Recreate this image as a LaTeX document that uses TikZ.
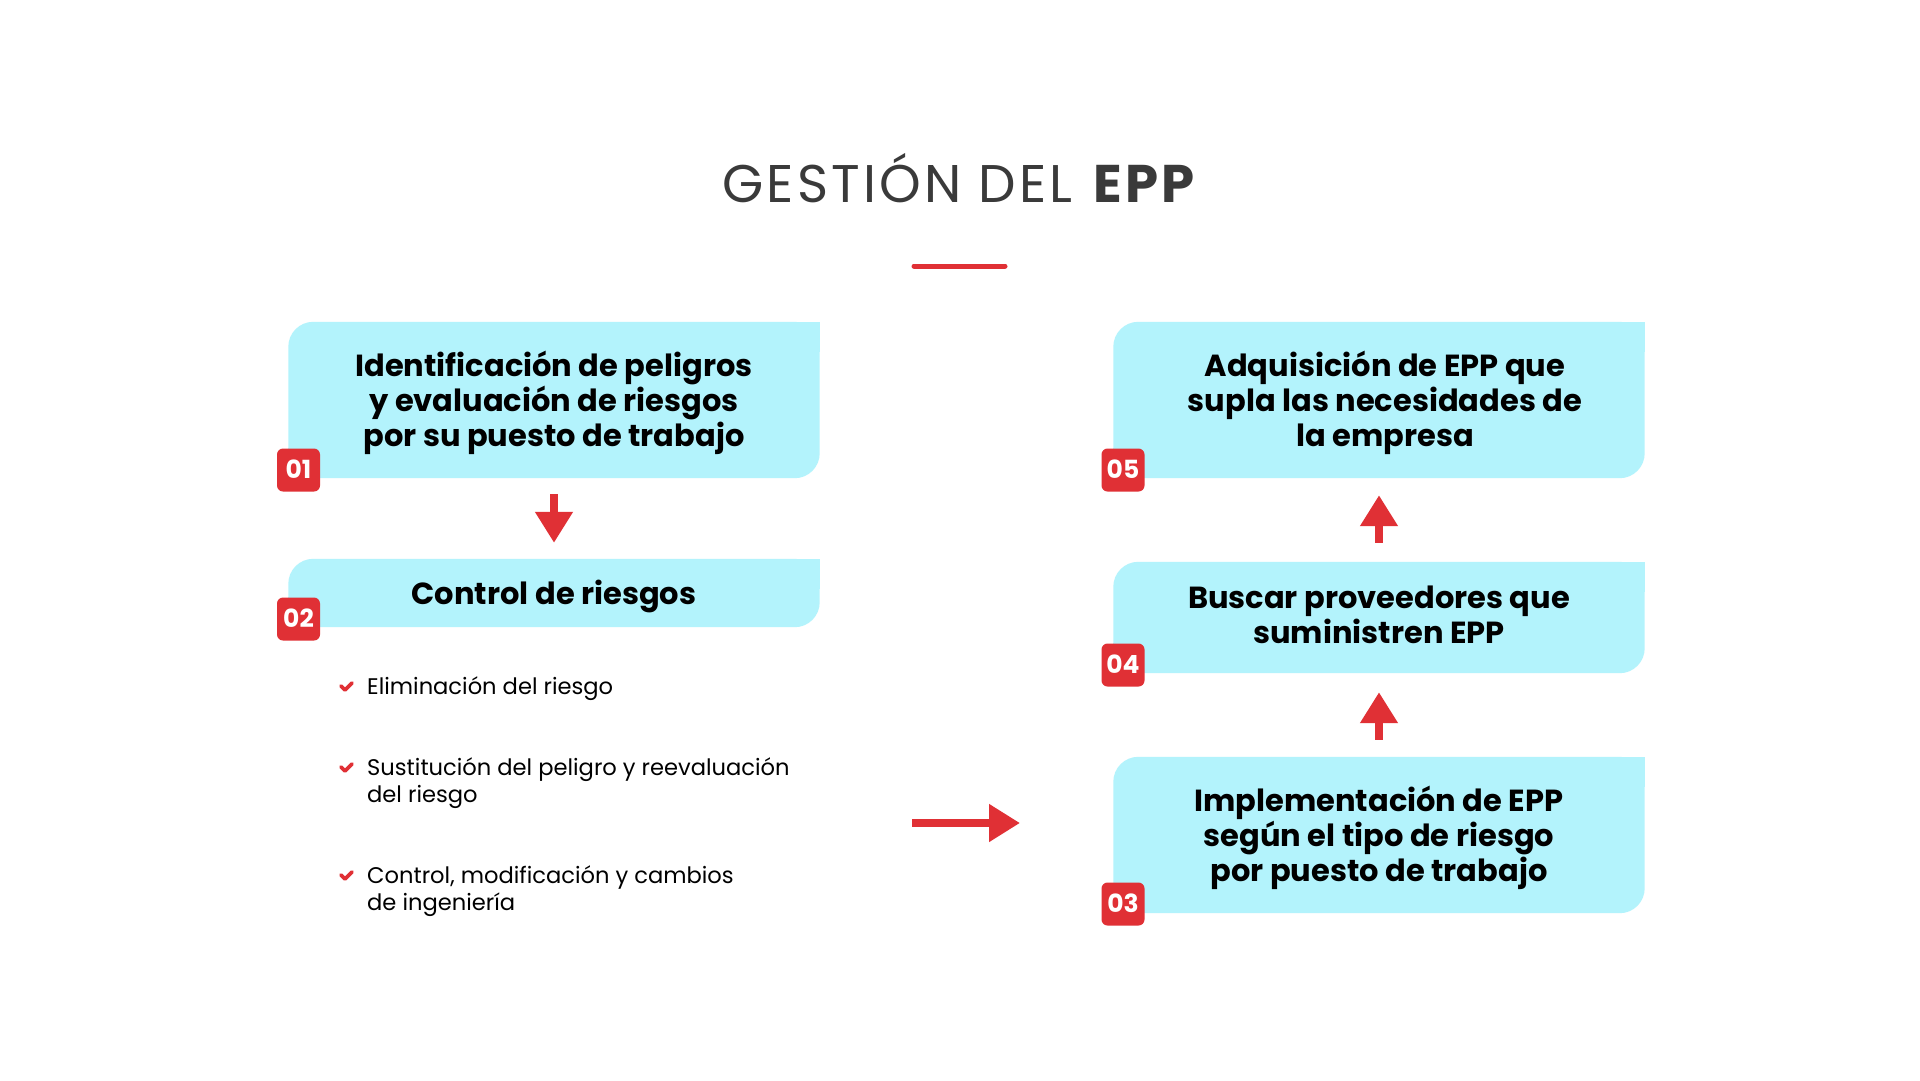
\documentclass[tikz,border=0pt]{standalone}
\usepackage{fontspec}
\setmainfont{Poppins}
\usetikzlibrary{arrows.meta,backgrounds}
\definecolor{boxcyan}{HTML}{B3F3FC}
\definecolor{epred}{HTML}{E03035}
\definecolor{titlegray}{HTML}{3A3A3A}
\newcommand\tl{\rule[-0.36em]{0pt}{1.46em}}
\newcommand\tlc{\rule[-0.52em]{0pt}{1.62em}}
\newcommand\tlb{\rule[-0.42em]{0pt}{1.42em}}
\newcommand\rsh{\hspace*{12pt}}
\newcommand\nolsl{\lineskiplimit-100pt\relax}
\begin{document}
\begin{tikzpicture}[x=1pt,y=-1pt,
  boxnode/.style={inner sep=0pt, minimum width=531pt, align=center,
    font=\fontsize{30.5}{35}\selectfont\bfseries\nolsl},
  badge/.style={fill=epred, rounded corners=6pt, minimum width=43pt, minimum height=43pt,
    inner sep=0pt, text=white, text height=17.5pt, text depth=0pt,
    font=\fontsize{25}{25}\selectfont\bfseries},
  flow/.style={draw=epred, line width=8pt, -{Triangle[length=31pt,width=36pt]}},
  item/.style={anchor=north west, inner sep=0pt, align=left,
    font=\fontsize{22.6}{27}\selectfont\nolsl},
  tick/.style={draw=epred, line width=3.8pt, line cap=round, line join=round},
  cyanshape/.style={fill=boxcyan}]
\useasboundingbox (0,0) rectangle (1920,1080);

% title
\node[anchor=base, inner sep=0pt, text=titlegray,
  font=\fontsize{53}{53}\selectfont\addfontfeatures{LetterSpace=6}] (title) at (960,202)
  {GESTIÓN DEL \textbf{EPP}};
\draw[epred, line width=5pt, line cap=round] (914,266) -- (1005,266);

% boxes
\node[boxnode, minimum height=156pt] (b1) at (554,400)
  {\tl Identificación de peligros\\\tl y evaluación de riesgos\\\tl por su puesto de trabajo};
\node[boxnode, minimum height=68pt] (b2) at (554,593)
  {\tl Control de riesgos};
\node[boxnode, minimum height=156pt] (b5) at (1379,400)
  {\rsh\tl Adquisición de EPP que\\\rsh\tl supla las necesidades de\\\rsh\tl la empresa};
\node[boxnode, minimum height=111pt] (b4) at (1379,617.5)
  {\tlc Buscar proveedores que\\\tlc suministren EPP};
\node[boxnode, minimum height=156pt] (b3) at (1379,835)
  {\tl Implementación de EPP\\\tl según el tipo de riesgo\\\tl por puesto de trabajo};

\begin{pgfonlayer}{background}
  \fill[white] (0,0) rectangle (1920,1080);
  \foreach \b in {b1,b2,b3,b4,b5}{
    \fill[cyanshape, rounded corners=25pt] (\b.south west) rectangle (\b.north east);
    \fill[cyanshape] (\b.north east) rectangle ([xshift=-30pt,yshift=-30pt]\b.north east);
    \fill[cyanshape] (\b.south west) rectangle ([xshift=30pt,yshift=30pt]\b.south west);
  }
\end{pgfonlayer}

% badges
\node[badge] (n1) at (298.5,470) {01};
\node[badge] (n2) at (298.5,619) {02};
\node[badge] (n5) at (1123,470) {05};
\node[badge] (n4) at (1123,665) {04};
\node[badge] (n3) at (1123,904) {03};

% bullet list
\node[item] (i1) at (367,672) {\tlb Eliminación del riesgo};
\node[item] (i2) at (367,753) {\tlb Sustitución del peligro y reevaluación\\\tlb del riesgo};
\node[item] (i3) at (367,860.7) {\tlb Control, modificación y cambios\\\tlb de ingeniería};
\draw[tick] (341,686) -- (345,690) -- (352,683);
\draw[tick] (341,767) -- (345,771) -- (352,764);
\draw[tick] (341,875) -- (345,879) -- (352,872);

% connectors
\draw[flow, shorten <=16pt, shorten >=16pt] (b1.south) -- (b2.north);
\coordinate (ra) at (912,823);
\coordinate (rb) at (1020,823);
\draw[flow] (ra) -- (rb);
\draw[flow, shorten <=17pt, shorten >=19pt] (b3.north) -- (b4.south);
\draw[flow, shorten <=19pt, shorten >=17pt] (b4.north) -- (b5.south);
\end{tikzpicture}
\end{document}
